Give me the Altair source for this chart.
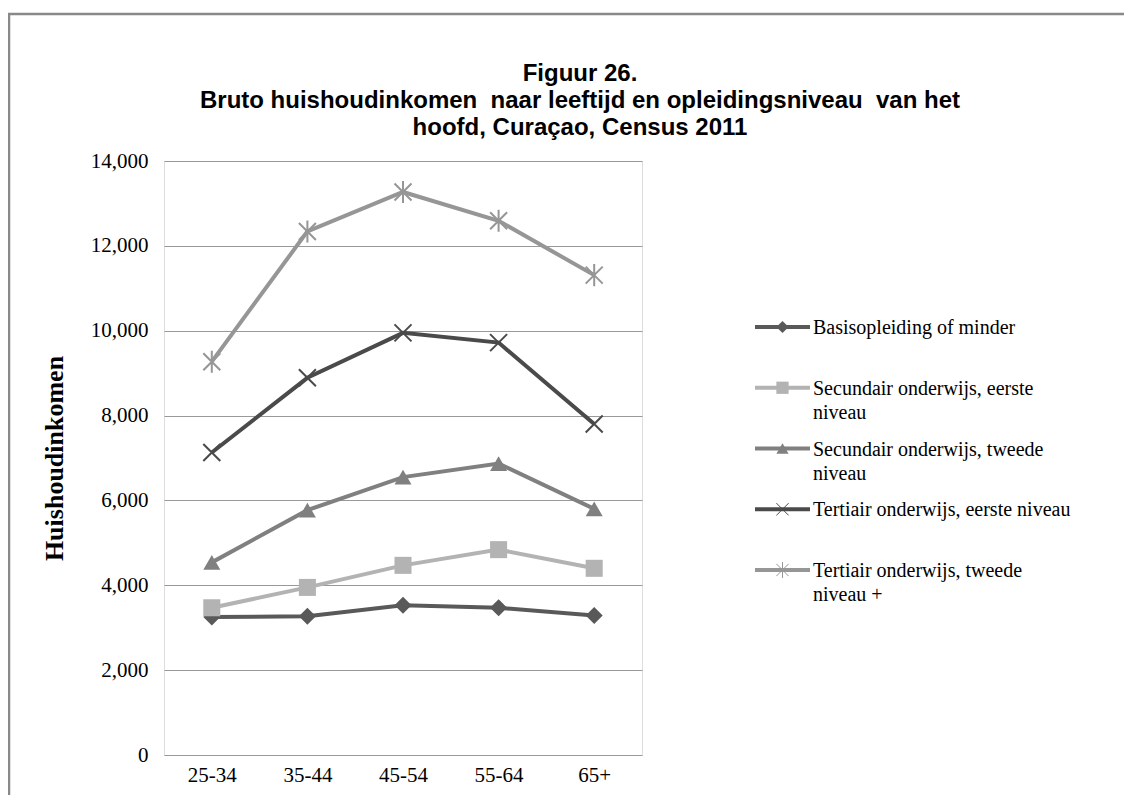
import altair as alt
import pandas as pd

# ---- data ----
ages = ["25-34", "35-44", "45-54", "55-64", "65+"]
series_names = [
    "Basisopleiding of minder",
    "Secundair onderwijs, eerste niveau",
    "Secundair onderwijs, tweede niveau",
    "Tertiair onderwijs, eerste niveau",
    "Tertiair onderwijs, tweede niveau +",
]
legend_lines = [
    ["Basisopleiding of minder"],
    ["Secundair onderwijs, eerste", "niveau"],
    ["Secundair onderwijs, tweede", "niveau"],
    ["Tertiair onderwijs, eerste niveau"],
    ["Tertiair onderwijs, tweede", "niveau +"],
]
basis = [3250, 3270, 3530, 3470, 3290]
sec1 = [3470, 3950, 4470, 4840, 4400]
sec2 = [4540, 5770, 6550, 6870, 5800]
ter1 = [7130, 8890, 9950, 9720, 7800]
ter2 = [9270, 12340, 13270, 12590, 11310]
y_ticks = [0, 2000, 4000, 6000, 8000, 10000, 12000, 14000]
title_lines = [
    "Figuur 26.",
    "Bruto huishoudinkomen \u00a0naar leeftijd en opleidingsniveau \u00a0van het",
    "hoofd, Curaçao, Census 2011",
]

colors = ["#595959", "#b3b3b3", "#808080", "#4a4a4a", "#969696"]
X_PATH = "M-1,-1L1,1M-1,1L1,-1"
AST_PATH = "M-1,-1L1,1M-1,1L1,-1M0,-1.3L0,1.3"
shapes = ["diamond", "square", "triangle-up", X_PATH, AST_PATH]

rows = []
for name, vals in zip(series_names, [basis, sec1, sec2, ter1, ter2]):
    for a, v in zip(ages, vals):
        rows.append({"series": name, "age": a, "value": v})
df = pd.DataFrame(rows)
legend_df = pd.DataFrame({"series": series_names, "lines": legend_lines})

color_scale = alt.Scale(domain=series_names, range=colors)
shape_scale = alt.Scale(domain=series_names, range=shapes)
color_enc = alt.Color("series:N", scale=color_scale, legend=None)
shape_enc = alt.Shape("series:N", scale=shape_scale, legend=None)

SERIF = "Liberation Serif"

x_enc = alt.X(
    "age:N", sort=ages, scale=alt.Scale(type="point", padding=0.5),
    axis=alt.Axis(title=None, labelFont=SERIF, labelFontSize=21, labelColor="black",
                  labelPadding=9, ticks=False, tickSize=0, domain=False, grid=False,
                  labelAngle=0),
)
y_enc = alt.Y(
    "value:Q", scale=alt.Scale(domain=[0, 14000], nice=False),
    axis=alt.Axis(values=y_ticks, format=",d", title="Huishoudinkomen",
                  titleFont=SERIF, titleFontSize=26, titleFontWeight="bold",
                  titleColor="black", titlePadding=23,
                  labelFont=SERIF, labelFontSize=21, labelColor="black",
                  labelPadding=16, ticks=False, tickSize=0, domain=False,
                  grid=True, gridColor="#999999", gridWidth=1),
)

base = alt.Chart(df)
lines = base.mark_line(strokeWidth=4).encode(x=x_enc, y=y_enc, color=color_enc)
pts_filled = base.transform_filter(
    alt.FieldOneOfPredicate(field="series", oneOf=series_names[:3])
).mark_point(filled=True, size=290, opacity=1, strokeWidth=0).encode(
    x=x_enc, y=y_enc, color=color_enc, shape=shape_enc)
pts_stroked = base.transform_filter(
    alt.FieldOneOfPredicate(field="series", oneOf=series_names[3:])
).mark_point(filled=False, size=289, opacity=1, strokeWidth=2).encode(
    x=x_enc, y=y_enc, color=color_enc, shape=shape_enc)
main = alt.layer(lines, pts_filled, pts_stroked)

# ---- legend built from data ----
leg_y = alt.Y("series:N", sort=series_names,
              scale=alt.Scale(type="point", range=[166, 409], padding=0), axis=None)
lbase = alt.Chart(legend_df)
leg_rule = lbase.mark_rule(strokeWidth=4).encode(
    x=alt.value(591), x2=alt.value(646), y=leg_y, color=color_enc)
leg_pf = lbase.transform_filter(
    alt.FieldOneOfPredicate(field="series", oneOf=series_names[:3])
).mark_point(filled=True, size=150, opacity=1, strokeWidth=0).encode(
    x=alt.value(618.5), y=leg_y, color=color_enc, shape=shape_enc)
leg_ps = lbase.transform_filter(
    alt.FieldOneOfPredicate(field="series", oneOf=series_names[3:])
).mark_point(filled=False, size=150, opacity=1, strokeWidth=1).encode(
    x=alt.value(618.5), y=leg_y, color=color_enc, shape=shape_enc)
leg_text = lbase.mark_text(align="left", baseline="alphabetic", dy=7, font=SERIF,
                           fontSize=20, color="black", lineHeight=24).encode(
    x=alt.value(649), y=leg_y, text="lines:N")
legend = alt.layer(leg_rule, leg_pf, leg_ps, leg_text)

# ---- outer frame ----
frame = alt.Chart(pd.DataFrame({"f": [0]})).mark_rect(
    filled=False, stroke="#898989", strokeWidth=2.5).encode(
    x=alt.value(-155), x2=alt.value(990), y=alt.value(-147), y2=alt.value(700))

chart = alt.layer(frame, main, legend).resolve_scale(y="independent").properties(
    width=478, height=594,
    padding={"left": 156, "top": 153, "right": 482, "bottom": 40},
    autosize=alt.AutoSizeParams(type="none"),
    title=alt.TitleParams(text=title_lines, font="Liberation Sans", fontSize=24,
                          fontWeight="bold", color="black", anchor="middle",
                          frame="group", dx=177, offset=-127, lineHeight=27),
).configure_view(stroke="#666666", strokeWidth=1).configure(background="white")

chart.save("out.html", embed_options={"renderer": "svg", "actions": False})
